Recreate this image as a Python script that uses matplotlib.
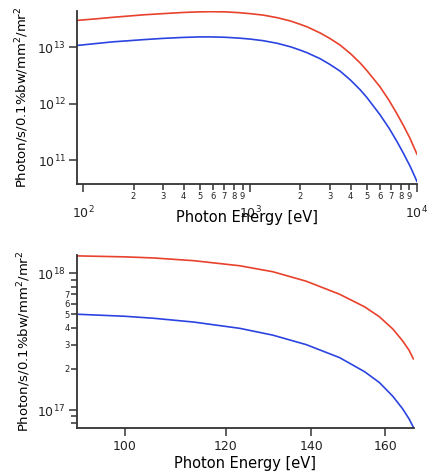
import numpy as np
import matplotlib
matplotlib.use("Agg")
import matplotlib.pyplot as plt
from matplotlib.ticker import FixedLocator, FixedFormatter, NullLocator

# данные: верхний график (широкий диапазон)
E_wide = [92, 120, 150, 231, 300, 400, 504, 578, 700, 850, 1000, 1200, 1452, 1750,
          2000, 2200, 2624, 3000, 3457, 4000, 4558, 5000, 6003, 6800, 7550, 8300,
          9080, 9500, 10000]
red_wide = [3.0e13, 3.2e13, 3.4e13, 3.77e13, 3.95e13, 4.15e13, 4.25e13, 4.28e13,
            4.25e13, 4.12e13, 3.95e13, 3.72e13, 3.35e13, 2.92e13, 2.55e13, 2.3e13,
            1.8e13, 1.44e13, 1.1e13, 7.7e12, 5.3e12, 3.9e12, 2.0e12, 1.15e12,
            6.8e11, 4.1e11, 2.45e11, 1.8e11, 1.28e11]
blue_wide = [1.08e13, 1.17e13, 1.25e13, 1.37e13, 1.44e13, 1.5e13, 1.53e13, 1.53e13,
             1.51e13, 1.46e13, 1.4e13, 1.31e13, 1.18e13, 1.02e13, 8.9e12, 8.0e12,
             6.3e12, 5.0e12, 3.8e12, 2.62e12, 1.78e12, 1.3e12, 6.4e11, 3.7e11,
             2.2e11, 1.32e11, 7.9e10, 5.9e10, 4.2e10]

# нижний график (узкий диапазон)
E_low = [91.7, 100, 105.3, 113.2, 123, 130.6, 138.7, 147.3, 154.1, 158.3, 162.2,
         165.1, 167, 168.3]
red_low = [1.34e18, 1.318e18, 1.294e18, 1.236e18, 1.135e18, 1.026e18, 8.75e17,
           7.03e17, 5.69e17, 4.81e17, 3.91e17, 3.2e17, 2.74e17, 2.37e17]
blue_low = [5.02e17, 4.85e17, 4.69e17, 4.40e17, 3.96e17, 3.53e17, 3.01e17, 2.42e17,
            1.91e17, 1.59e17, 1.26e17, 1.02e17, 8.63e16, 7.5e16]

x_ticks_low = [100, 120, 140, 160]
ylabel = "Photon/s/0.1%bw/mm$^2$/mr$^2$"
xlabel = "Photon Energy [eV]"
RED = "#e8412c"
BLUE = "#2b44e0"
AX = "#333333"

plt.rcParams["font.family"] = ["DejaVu Sans"]
fig = plt.figure(figsize=[4.32, 4.71], dpi=100)
W, H = 432, 471

def style(ax):
    for s in ["top", "right"]:
        ax.spines[s].set_visible(False)
    for s in ["left", "bottom"]:
        ax.spines[s].set_color(AX)
        ax.spines[s].set_linewidth(1.3)
    ax.tick_params(which="both", direction="out", color=AX, width=1.1, labelcolor="#222222")

# верхний график
ax1 = fig.add_axes([77 / W, 1 - 184 / H, (417 - 77) / W, (184 - 11) / H])
ax1.plot(E_wide, red_wide, color=RED, linewidth=1.2, solid_joinstyle="round")
ax1.plot(E_wide, blue_wide, color=BLUE, linewidth=1.2, solid_joinstyle="round")
ax1.set_xscale("log")
ax1.set_yscale("log")
ax1.set(xlim=[91.7, 10000], ylim=[3.8e10, 4.4e13])
style(ax1)
ax1.xaxis.set_major_locator(FixedLocator([1e2, 1e3, 1e4]))
ax1.xaxis.set_major_formatter(FixedFormatter(["$10^2$", "$10^3$", "$10^4$"]))
minors = [k * 10 ** d for d in (2, 3) for k in range(2, 10)]
ax1.xaxis.set_minor_locator(FixedLocator(minors))
ax1.xaxis.set_minor_formatter(FixedFormatter([str(k) for d in (2, 3) for k in range(2, 10)]))
ax1.tick_params(axis="x", which="major", length=6, pad=9, labelsize=9)
ax1.tick_params(axis="x", which="minor", length=4, pad=1.5, labelsize=6)
ax1.yaxis.set_major_locator(FixedLocator([1e11, 1e12, 1e13]))
ax1.yaxis.set_minor_locator(NullLocator())
ax1.tick_params(axis="y", which="major", length=6, pad=2, labelsize=9)
ax1.set_xlabel(xlabel, fontsize=10.5)
ax1.xaxis.set_label_coords(0.5, -(210 - 184) / 173)
ax1.set_ylabel(ylabel, fontsize=9.5)
ax1.yaxis.set_label_coords(-(77 - 31) / 340, 0.5)

# нижний график
ax2 = fig.add_axes([77 / W, 1 - 428 / H, (414 - 77) / W, (428 - 255) / H])
ax2.plot(E_low, red_low, color=RED, linewidth=1.2, solid_joinstyle="round")
ax2.plot(E_low, blue_low, color=BLUE, linewidth=1.2, solid_joinstyle="round")
ax2.set_xscale("log")
ax2.set_yscale("log")
ax2.set(xlim=[91.7, 168.5], ylim=[7.4e16, 1.36e18])
style(ax2)
ax2.xaxis.set_major_locator(FixedLocator(x_ticks_low))
ax2.xaxis.set_major_formatter(FixedFormatter([str(v) for v in x_ticks_low]))
ax2.xaxis.set_minor_locator(NullLocator())
ax2.tick_params(axis="x", which="major", length=6, pad=3, labelsize=9)
ax2.yaxis.set_major_locator(FixedLocator([1e17, 1e18]))
ax2.yaxis.set_major_formatter(FixedFormatter(["$10^{17}$", "$10^{18}$"]))
yminor = [8e16, 9e16] + [k * 1e17 for k in range(2, 10)]
yminor_lab = ["", ""] + [str(k) for k in range(2, 8)] + ["", ""]
ax2.yaxis.set_minor_locator(FixedLocator(yminor))
ax2.yaxis.set_minor_formatter(FixedFormatter(yminor_lab))
ax2.tick_params(axis="y", which="major", length=6, pad=2, labelsize=9)
ax2.tick_params(axis="y", which="minor", length=4, pad=1, labelsize=6)
ax2.set_xlabel(xlabel, fontsize=10.5)
ax2.xaxis.set_label_coords(0.5, -(456 - 428) / 173)
ax2.set_ylabel(ylabel, fontsize=9.5)
ax2.yaxis.set_label_coords(-(77 - 33) / 337, 0.5)

fig.savefig("out.png", dpi=100, facecolor="white")
